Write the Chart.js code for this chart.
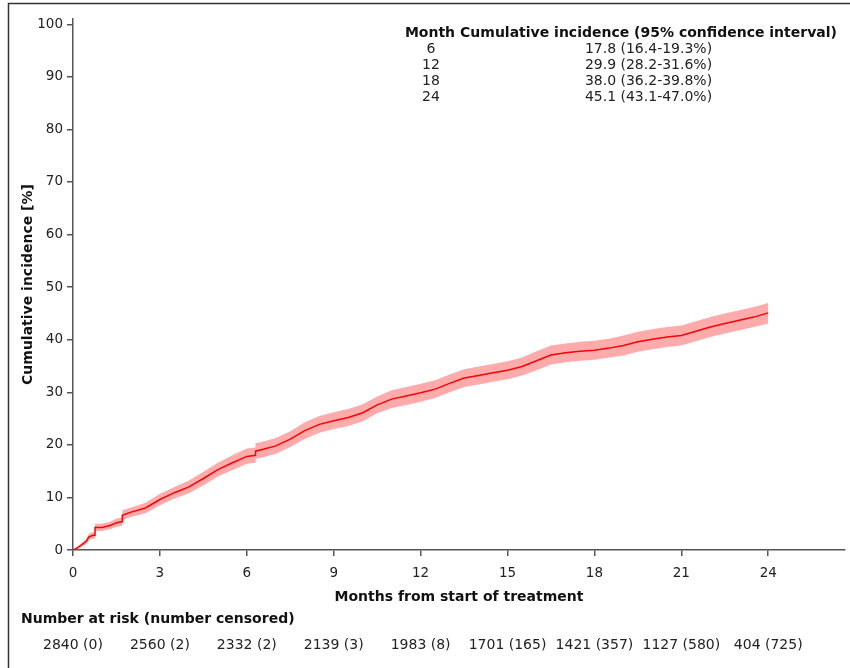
<!DOCTYPE html>
<html>
<head>
<meta charset="utf-8">
<title>Cumulative incidence</title>
<style>
  html, body { margin: 0; padding: 0; background: #ffffff; }
  #wrap { position: relative; width: 850px; height: 668px; }
</style>
<script src="https://cdn.jsdelivr.net/npm/chart.js@4.4.1/dist/chart.umd.min.js"></script>
</head>
<body>
<div id="wrap"><canvas id="chart" width="850" height="668"></canvas></div>
<script>
// Cumulative incidence curve (months from start of treatment, %)
const months = [0, 0.15, 0.3, 0.45, 0.55, 0.7, 0.76, 0.76, 1.0, 1.3, 1.5, 1.7, 1.7, 2.0, 2.5, 3.0, 3.5, 4.0, 4.5, 5.0, 5.5, 6.0, 6.3, 6.3, 6.6, 7.0, 7.5, 8.0, 8.5, 9.0, 9.5, 10.0, 10.5, 11.0, 11.5, 12.0, 12.5, 13.0, 13.5, 14.0, 14.5, 15.0, 15.5, 16.0, 16.5, 17.0, 17.5, 18.0, 18.5, 19.0, 19.5, 20.0, 20.5, 21.0, 21.5, 22.0, 22.5, 23.0, 23.5, 24.0];
const incidence = [0, 0.4, 1.0, 1.6, 2.5, 2.8, 2.8, 4.3, 4.3, 4.7, 5.2, 5.4, 6.6, 7.2, 8.0, 9.6, 10.9, 12.0, 13.6, 15.3, 16.6, 17.8, 18.0, 18.8, 19.2, 19.8, 21.1, 22.7, 23.9, 24.6, 25.2, 26.1, 27.6, 28.7, 29.3, 29.9, 30.6, 31.7, 32.7, 33.2, 33.7, 34.2, 34.9, 36.0, 37.1, 37.5, 37.8, 38.0, 38.4, 38.9, 39.6, 40.1, 40.5, 40.8, 41.6, 42.4, 43.1, 43.7, 44.3, 45.1];
const lower95 = [0, 0.2, 0.6, 1.1, 1.9, 2.2, 2.2, 3.6, 3.6, 4.0, 4.4, 4.6, 5.7, 6.3, 7.0, 8.5, 9.8, 10.8, 12.3, 14.0, 15.2, 16.4, 16.6, 17.3, 17.7, 18.3, 19.6, 21.1, 22.3, 23.0, 23.6, 24.5, 26.0, 27.0, 27.6, 28.2, 28.9, 30.0, 31.0, 31.5, 32.0, 32.5, 33.2, 34.2, 35.3, 35.7, 36.0, 36.2, 36.6, 37.0, 37.7, 38.2, 38.6, 38.9, 39.7, 40.5, 41.2, 41.8, 42.4, 43.1];
const upper95 = [0, 0.6, 1.4, 2.1, 3.1, 3.4, 3.4, 5.0, 5.0, 5.4, 6.0, 6.2, 7.5, 8.1, 9.0, 10.7, 12.0, 13.2, 14.9, 16.6, 18.0, 19.3, 19.5, 20.3, 20.7, 21.3, 22.6, 24.3, 25.5, 26.2, 26.8, 27.7, 29.2, 30.4, 31.0, 31.6, 32.3, 33.4, 34.4, 34.9, 35.4, 35.9, 36.6, 37.8, 38.9, 39.3, 39.6, 39.8, 40.2, 40.8, 41.5, 42.0, 42.4, 42.7, 43.5, 44.3, 45.0, 45.6, 46.2, 47.0];

// Axis ticks
const xTicks = [0, 3, 6, 9, 12, 15, 18, 21, 24];
const yTicks = [0, 10, 20, 30, 40, 50, 60, 70, 80, 90, 100];

// Summary table
const tableMonths = [6, 12, 18, 24];
const tableEstimate = [17.8, 29.9, 38.0, 45.1];
const tableLower = [16.4, 28.2, 36.2, 43.1];
const tableUpper = [19.3, 31.6, 39.8, 47.0];

// Number at risk (number censored)
const riskMonths = [0, 3, 6, 9, 12, 15, 18, 21, 24];
const atRisk = [2840, 2560, 2332, 2139, 1983, 1701, 1421, 1127, 404];
const censored = [0, 2, 2, 3, 8, 165, 357, 580, 725];

const FONT = "'DejaVu Sans', 'Liberation Sans', sans-serif";

function toPoints(xs, ys) {
  return xs.map((x, i) => ({ x: x, y: ys[i] }));
}

const decorations = {
  id: 'decorations',
  beforeDraw(chart) {
    const ctx = chart.ctx;
    ctx.save();
    ctx.strokeStyle = '#333333';
    ctx.lineWidth = 1.5;
    ctx.beginPath();
    ctx.moveTo(8.5, 668);
    ctx.lineTo(8.5, 3.5);
    ctx.lineTo(850, 3.5);
    ctx.stroke();
    ctx.restore();
  },
  afterDraw(chart) {
    const ctx = chart.ctx;
    const xs = chart.scales.x;
    ctx.save();
    ctx.textBaseline = 'middle';
    ctx.textAlign = 'center';

    // summary table
    ctx.fillStyle = '#111111';
    ctx.font = 'bold 14px ' + FONT;
    ctx.fillText('Month', 430, 33);
    ctx.fillText('Cumulative incidence (95% confidence interval)', 648.5, 33);
    ctx.font = '14px ' + FONT;
    ctx.fillStyle = '#222222';
    tableMonths.forEach((m, i) => {
      const y = 49 + i * 16;
      ctx.fillText(String(m), 431, y);
      const txt = tableEstimate[i].toFixed(1) + ' (' + tableLower[i].toFixed(1) + '-' + tableUpper[i].toFixed(1) + '%)';
      ctx.fillText(txt, 648.5, y);
    });

    // risk table
    ctx.textAlign = 'left';
    ctx.fillStyle = '#111111';
    ctx.font = 'bold 14px ' + FONT;
    ctx.fillText('Number at risk (number censored)', 21, 619);
    ctx.textAlign = 'center';
    ctx.fillStyle = '#222222';
    ctx.font = '14px ' + FONT;
    riskMonths.forEach((m, i) => {
      ctx.fillText(atRisk[i] + ' (' + censored[i] + ')', xs.getPixelForValue(m), 645);
    });
    ctx.restore();
  }
};

new Chart(document.getElementById('chart').getContext('2d'), {
  type: 'line',
  data: {
    datasets: [
      {
        label: 'Upper 95% CI',
        data: toPoints(months, upper95),
        borderColor: 'rgba(0,0,0,0)',
        borderWidth: 0,
        pointRadius: 0,
        backgroundColor: 'rgba(255,0,0,0.33)',
        fill: '+1',
        tension: 0
      },
      {
        label: 'Lower 95% CI',
        data: toPoints(months, lower95),
        borderColor: 'rgba(0,0,0,0)',
        borderWidth: 0,
        pointRadius: 0,
        fill: false,
        tension: 0
      },
      {
        label: 'Cumulative incidence',
        data: toPoints(months, incidence),
        borderColor: '#ff0000',
        borderWidth: 1.5,
        pointRadius: 0,
        fill: false,
        tension: 0
      }
    ]
  },
  options: {
    responsive: false,
    animation: false,
    events: [],
    layout: { padding: { left: 0, top: 19, right: 5, bottom: 58 } },
    plugins: {
      legend: { display: false },
      tooltip: { enabled: false },
      title: { display: false }
    },
    scales: {
      x: {
        type: 'linear',
        min: 0,
        max: 26.65,
        afterBuildTicks: (s) => { s.ticks = xTicks.map(v => ({ value: v })); },
        afterFit: (s) => { s.height = 60; },
        grid: { drawOnChartArea: false, drawTicks: true, tickLength: 6, color: '#555555', lineWidth: 1.5 },
        border: { display: true, color: '#555555', width: 1.5 },
        ticks: { font: { family: FONT, size: 13.5 }, color: '#222222', padding: 9, maxRotation: 0, autoSkip: false },
        title: {
          display: true,
          text: 'Months from start of treatment',
          font: { family: FONT, size: 14, weight: 'bold' },
          color: '#111111',
          padding: { top: 0, bottom: 4.6 }
        }
      },
      y: {
        type: 'linear',
        min: 0,
        max: 101,
        afterBuildTicks: (s) => { s.ticks = yTicks.map(v => ({ value: v })); },
        afterFit: (s) => { s.width = 73; },
        grid: { drawOnChartArea: false, drawTicks: true, tickLength: 6, color: '#555555', lineWidth: 1.5 },
        border: { display: true, color: '#555555', width: 1.5 },
        ticks: { font: { family: FONT, size: 13.5 }, color: '#222222', padding: 4 },
        title: {
          display: true,
          text: 'Cumulative incidence [%]',
          font: { family: FONT, size: 14, weight: 'bold' },
          color: '#111111',
          padding: { top: 19.6, bottom: 0 }
        }
      }
    }
  },
  plugins: [decorations]
});
</script>
</body>
</html>
